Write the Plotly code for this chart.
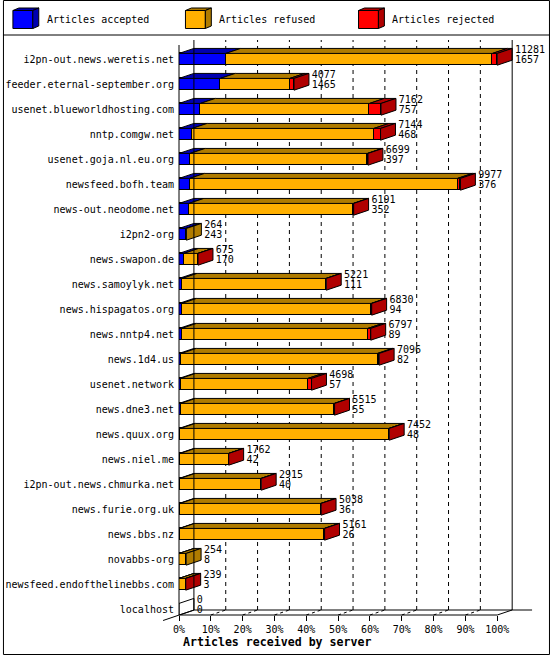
import plotly.graph_objects as go

# innfeed-style report: articles offered / accepted / rejected per peer
servers = [
    "i2pn-out.news.weretis.net", "feeder.eternal-september.org",
    "usenet.blueworldhosting.com", "nntp.comgw.net", "usenet.goja.nl.eu.org",
    "newsfeed.bofh.team", "news-out.neodome.net", "i2pn2-org", "news.swapon.de",
    "news.samoylyk.net", "news.hispagatos.org", "news.nntp4.net", "news.1d4.us",
    "usenet.network", "news.dne3.net", "news.quux.org", "news.niel.me",
    "i2pn-out.news.chmurka.net", "news.furie.org.uk", "news.bbs.nz",
    "novabbs-org", "newsfeed.endofthelinebbs.com", "localhost",
]
offered = [11281, 4077, 7162, 7144, 6699, 9977, 6191, 264, 675, 5221, 6830,
           6797, 7096, 4698, 5515, 7452, 1762, 2915, 5038, 5161, 254, 239, 0]
accepted = [1657, 1465, 757, 468, 397, 376, 352, 243, 170, 111, 94, 89, 82,
            57, 55, 48, 42, 40, 36, 26, 8, 3, 0]
rejected = [170, 150, 410, 235, 20, 105, 10, 0, 3, 8, 15, 105, 60, 130, 10,
            10, 5, 5, 5, 8, 0, 2, 0]
pct_ticks = list(range(0, 101, 10))

FONT = "DejaVu Sans Mono"
W, H = 550, 655
L, R, T, B = 177, 5, 40, 40
PW, PH = W - L - R, H - T - B
XMAX = PW / 3.2                 # 3.2 px per percent
ROW = 25.0                      # px per category
YMIN = -19.3 / ROW
YMAX = YMIN + PH / ROW
DX = 15 / 3.2                   # 3d depth, in percent
DY = 5 / ROW                    # 3d depth, in rows
HALF = 0.235

FRONT = {"acc": "#0000ff", "ref": "#ffb000", "rej": "#ff0000"}
DARK = {"acc": "#0000b0", "ref": "#b07c00", "rej": "#b00000"}

peak = max(offered)
acc = [a / peak * 100 for a in accepted]
rej = [r / peak * 100 for r in rejected]
ref = [(o - a - r) / peak * 100 for o, a, r in zip(offered, accepted, rejected)]
rows = list(range(len(servers)))


def xp(v):
    return v / XMAX


def yp(v):
    return (YMAX - v) / (YMAX - YMIN)


def pxx(px):
    return (px - L) / PW


def pxy(py):
    return (H - B - py) / PH


fig = go.Figure()

for key, vals in (("acc", acc), ("ref", ref), ("rej", rej)):
    fig.add_trace(go.Bar(y=rows, x=vals, orientation="h", width=2 * HALF,
                         marker=dict(color=FRONT[key], line=dict(color="black", width=1)),
                         hoverinfo="skip", showlegend=False))

# 3d top faces and end faces, built from the segment extents
tops = {k: ([], []) for k in FRONT}
sides = {k: ([], []) for k in list(FRONT) + ["none"]}
for i in rows:
    x0 = 0
    last = "none"
    for key, w in (("acc", acc[i]), ("ref", ref[i]), ("rej", rej[i])):
        if w <= 0:
            continue
        x1 = x0 + w
        t = i - HALF
        tops[key][0].extend([x0, x1, x1 + DX, x0 + DX, x0, None])
        tops[key][1].extend([t, t, t - DY, t - DY, t, None])
        x0 = x1
        last = key
    sides[last][0].extend([x0, x0 + DX, x0 + DX, x0, x0, None])
    sides[last][1].extend([i - HALF, i - HALF - DY, i + HALF - DY, i + HALF, i - HALF, None])

for key, (xs, ys) in tops.items():
    fig.add_trace(go.Scatter(x=xs, y=ys, mode="lines", fill="toself", fillcolor=DARK[key],
                             line=dict(color="black", width=1), hoverinfo="skip",
                             showlegend=False))
for key, (xs, ys) in sides.items():
    if not xs:
        continue
    fig.add_trace(go.Scatter(x=xs, y=ys, mode="lines", fill="toself",
                             fillcolor=DARK.get(key, "rgba(0,0,0,0)"),
                             line=dict(color="black", width=1), hoverinfo="skip",
                             showlegend=False))

# value labels: offered on top, accepted below
lab_x = [o / peak * 100 + DX + 0.9 for o in offered]
fig.add_trace(go.Scatter(x=lab_x, y=[i - 0.37 for i in rows], mode="text",
                         text=[str(v) for v in offered], textposition="middle right",
                         textfont=dict(family=FONT, size=10, color="black"),
                         cliponaxis=False, hoverinfo="skip", showlegend=False))
fig.add_trace(go.Scatter(x=lab_x, y=[i + 0.06 for i in rows], mode="text",
                         text=[str(v) for v in accepted], textposition="middle right",
                         textfont=dict(family=FONT, size=10, color="black"),
                         cliponaxis=False, hoverinfo="skip", showlegend=False))

shapes = []
line = dict(color="black", width=1)
dash = dict(color="black", width=1, dash="4px,4px")
floor_f, floor_b = yp(YMAX), yp(YMAX - DY)
top_b = yp(YMIN)
# back wall grid
for p in pct_ticks[1:-1]:
    shapes.append(dict(type="line", xref="paper", yref="paper", x0=xp(p + DX), x1=xp(p + DX),
                       y0=floor_b, y1=top_b, line=dash, layer="below"))
    shapes.append(dict(type="line", xref="paper", yref="paper", x0=xp(p), x1=xp(p + DX),
                       y0=floor_f, y1=floor_b, line=dict(color="black", width=1, dash="3px,3px"),
                       layer="below"))
# walls, floor, axis
shapes += [
    dict(type="line", xref="paper", yref="paper", x0=xp(DX), x1=xp(DX), y0=floor_b, y1=top_b, line=line),
    dict(type="line", xref="paper", yref="paper", x0=xp(100 + DX), x1=xp(100 + DX), y0=floor_b, y1=top_b, line=line),
    dict(type="line", xref="paper", yref="paper", x0=0, x1=0, y0=floor_f, y1=yp(YMIN + DY), line=line),
    dict(type="line", xref="paper", yref="paper", x0=pxx(161), x1=xp(DX), y0=pxy(620.5), y1=floor_b, line=line),
    dict(type="line", xref="paper", yref="paper", x0=0, x1=xp(100), y0=floor_f, y1=floor_f, line=line),
    dict(type="line", xref="paper", yref="paper", x0=xp(100), x1=xp(100 + DX), y0=floor_f, y1=floor_b, line=line),
    dict(type="line", xref="paper", yref="paper", x0=xp(DX), x1=pxx(532), y0=floor_b, y1=floor_b, line=line),
    # frame and legend separator
    dict(type="rect", xref="paper", yref="paper", x0=pxx(0.5), x1=pxx(549.5), y0=pxy(0.5), y1=pxy(654.5), line=line),
    dict(type="line", xref="paper", yref="paper", x0=pxx(0), x1=pxx(550), y0=pxy(35), y1=pxy(35), line=line),
]

annotations = [
    dict(text="<b>Articles received by server</b>", xref="paper", yref="paper",
         x=pxx(179), y=pxy(642), xanchor="left", yanchor="middle", showarrow=False,
         font=dict(family=FONT, size=11.6, color="black")),
]

# legend with little cubes
legend_items = [("Articles accepted", "acc", 10), ("Articles refused", "ref", 183.5),
                ("Articles rejected", "rej", 357.5)]
for label, key, bx in legend_items:
    x0, x1, y0, y1, d, e = bx, bx + 20, 10.5, 28.5, 6, 2.5

    def pth(pts):
        return "M " + " L ".join(f"{pxx(a):.5f},{pxy(b):.5f}" for a, b in pts) + " Z"

    shapes.append(dict(type="path", xref="paper", yref="paper", fillcolor=FRONT[key], line=line,
                       path=pth([(x0, y0), (x1, y0), (x1, y1), (x0, y1)])))
    shapes.append(dict(type="path", xref="paper", yref="paper", fillcolor=DARK[key], line=line,
                       path=pth([(x0, y0), (x0 + d, y0 - e), (x1 + d, y0 - e), (x1, y0)])))
    shapes.append(dict(type="path", xref="paper", yref="paper", fillcolor=DARK[key], line=line,
                       path=pth([(x1, y0), (x1 + d, y0 - e), (x1 + d, y1 - e), (x1, y1)])))
    annotations.append(dict(text=label, xref="paper", yref="paper", x=pxx(x1 + d + 6), y=pxy(20),
                            xanchor="left", yanchor="middle", showarrow=False,
                            font=dict(family=FONT, size=10, color="black")))

fig.update_layout(
    width=W, height=H,
    margin=dict(l=L, r=R, t=T, b=B),
    paper_bgcolor="white", plot_bgcolor="white",
    barmode="stack", bargap=0,
    showlegend=False,
    shapes=shapes, annotations=annotations,
    font=dict(family=FONT, size=10, color="black"),
    xaxis=dict(range=[0, XMAX], tickvals=pct_ticks, ticktext=[f"{p}%" for p in pct_ticks],
               ticks="outside", ticklen=5, tickcolor="black", showgrid=False, zeroline=False,
               showline=False, tickfont=dict(family=FONT, size=10, color="black")),
    yaxis=dict(range=[YMAX, YMIN], tickvals=rows, ticktext=servers, ticks="", showgrid=False,
               zeroline=False, showline=False, ticklabelstandoff=4,
               tickfont=dict(family=FONT, size=10, color="black")),
)

# the page's default body margin would shift the 550x655 figure off the window
fig.write_html("out.html", config={"displayModeBar": False},
               post_script="document.body.style.margin = '0';")
